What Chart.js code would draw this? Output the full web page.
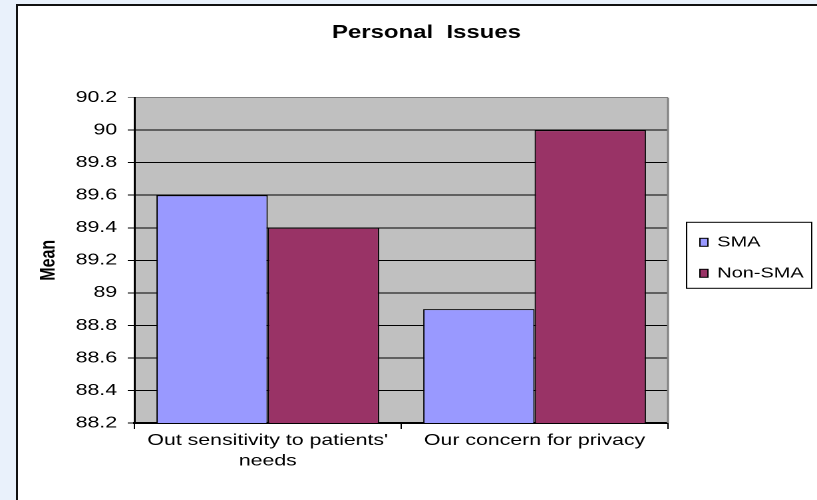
<!DOCTYPE html>
<html lang="en">
<head>
<meta charset="utf-8">
<title>Personal Issues</title>
<style>
    html, body { margin: 0; padding: 0; }
    body { position: relative; width: 817px; height: 500px; overflow: hidden; background: #e9f1fb; }
    #frame { position: absolute; left: 16px; top: 4px; width: 840px; height: 540px; background: #fff;
             border-left: 2px solid #111; border-top: 2px solid #111; }
    #barChart { position: absolute; left: 0; top: 0; }
</style>
<script src="https://cdn.jsdelivr.net/npm/chart.js"></script>
</head>
<body>
<div id="frame"></div>
<!-- ritas i smalare upplösning och dras ut på bredden -->
<canvas id="barChart" width="614" height="500" style="width: 817px; height: 500px;"></canvas>
<script>
"use strict";

const categories = [["Out sensitivity to patients'", "needs"], "Our concern for privacy"];
const seriesNames = ["SMA", "Non-SMA"];
const smaValues = [89.6, 88.9];
const nonSmaValues = [89.4, 90.0];
const seriesColors = ['#9999ff', '#993366'];
const yMin = 88.2;
const yMax = 90.2;
const yStep = 0.2;

const fontFamily = '"Liberation Sans", Arial, sans-serif';

/**
 * Grå bakgrund i diagramytan och grå kant till höger
 * @type {Object}
 */
const plotBackground = {
    id: 'plotBackground',
    beforeDraw(chart) {
        const { ctx, chartArea: a } = chart;
        ctx.save();
        ctx.fillStyle = '#c0c0c0';
        ctx.fillRect(a.left, a.top, a.width, a.height);
        ctx.restore();
    },
    beforeDatasetsDraw(chart) {
        const { ctx, chartArea: a } = chart;
        ctx.save();
        ctx.strokeStyle = '#808080';
        ctx.lineWidth = 1.5;
        ctx.beginPath();
        ctx.moveTo(a.right, a.top);
        ctx.lineTo(a.right, a.bottom);
        ctx.stroke();
        ctx.restore();
    }
};

/**
 * Förklaring med ram, till höger om diagrammet
 * @type {Object}
 */
const boxLegend = {
    id: 'boxLegend',
    afterDraw(chart) {
        const { ctx, chartArea: a } = chart;
        const left = a.right + 14;
        const width = 94;
        const height = 66;
        const top = (a.top + a.bottom) / 2 - height / 2 - 5;
        ctx.save();
        ctx.strokeStyle = '#000';
        ctx.lineWidth = 1;
        ctx.strokeRect(left, top, width, height);
        ctx.font = '15px ' + fontFamily;
        ctx.textBaseline = 'middle';
        chart.data.datasets.forEach((ds, i) => {
            const y = top + 20 + i * 31;
            ctx.fillStyle = ds.backgroundColor;
            ctx.fillRect(left + 10, y - 4, 6, 8);
            ctx.strokeRect(left + 10, y - 4, 6, 8);
            ctx.fillStyle = '#000';
            ctx.fillText(ds.label, left + 23, y);
        });
        ctx.restore();
    }
};

/**
 * Skapar stapeldiagrammet
 * @returns {void}
 */
function createBarChart() {
    const ctx = document.getElementById('barChart').getContext('2d');
    new Chart(ctx, {
        type: 'bar',
        data: {
            labels: categories,
            datasets: [{
                label: seriesNames[0],
                data: smaValues,
                backgroundColor: seriesColors[0],
                borderColor: '#000',
                borderWidth: 1
            }, {
                label: seriesNames[1],
                data: nonSmaValues,
                backgroundColor: seriesColors[1],
                borderColor: '#000',
                borderWidth: 1
            }]
        },
        options: {
            responsive: false,
            animation: false,
            devicePixelRatio: 2,
            categoryPercentage: 0.835,
            barPercentage: 1,
            layout: {
                padding: { left: 27, right: 0, top: 0, bottom: 0 }
            },
            plugins: {
                legend: { display: false },
                tooltip: { enabled: false },
                title: {
                    display: true,
                    text: 'Personal  Issues',
                    color: '#000',
                    font: { family: fontFamily, size: 18, weight: 'bold' },
                    padding: { top: 22, bottom: 54 }
                }
            },
            scales: {
                x: {
                    grid: {
                        drawOnChartArea: false,
                        color: '#000',
                        tickLength: 6
                    },
                    border: { color: '#000', width: 2 },
                    ticks: {
                        color: '#000',
                        padding: 1,
                        maxRotation: 0,
                        font: { family: fontFamily, size: 16, lineHeight: 1.3 }
                    },
                    afterFit: scale => { scale.height = 77; }
                },
                y: {
                    min: yMin,
                    max: yMax,
                    grid: {
                        color: c => (c.index === c.chart.scales.y.ticks.length - 1 ? '#808080' : '#000'),
                        tickLength: 5
                    },
                    border: { color: '#000', width: 1.5 },
                    ticks: {
                        stepSize: yStep,
                        color: '#000',
                        padding: 8,
                        font: { family: fontFamily, size: 16 },
                        callback: value => String(Number(value.toFixed(1)))
                    },
                    title: {
                        display: true,
                        text: 'Mean',
                        color: '#000',
                        padding: { top: 0, bottom: 0 },
                        font: { family: fontFamily, size: 16, weight: 'bold' }
                    },
                    afterFit: scale => { scale.width = 74; }
                },
                // tom yta till höger, plats för förklaringen
                legendSpace: {
                    type: 'linear',
                    position: 'right',
                    grid: { display: false },
                    border: { display: false },
                    ticks: { display: false },
                    afterFit: scale => { scale.width = 112; }
                }
            }
        },
        plugins: [plotBackground, boxLegend]
    });
}

window.onload = () => {
    createBarChart();
}
</script>
</body>
</html>
